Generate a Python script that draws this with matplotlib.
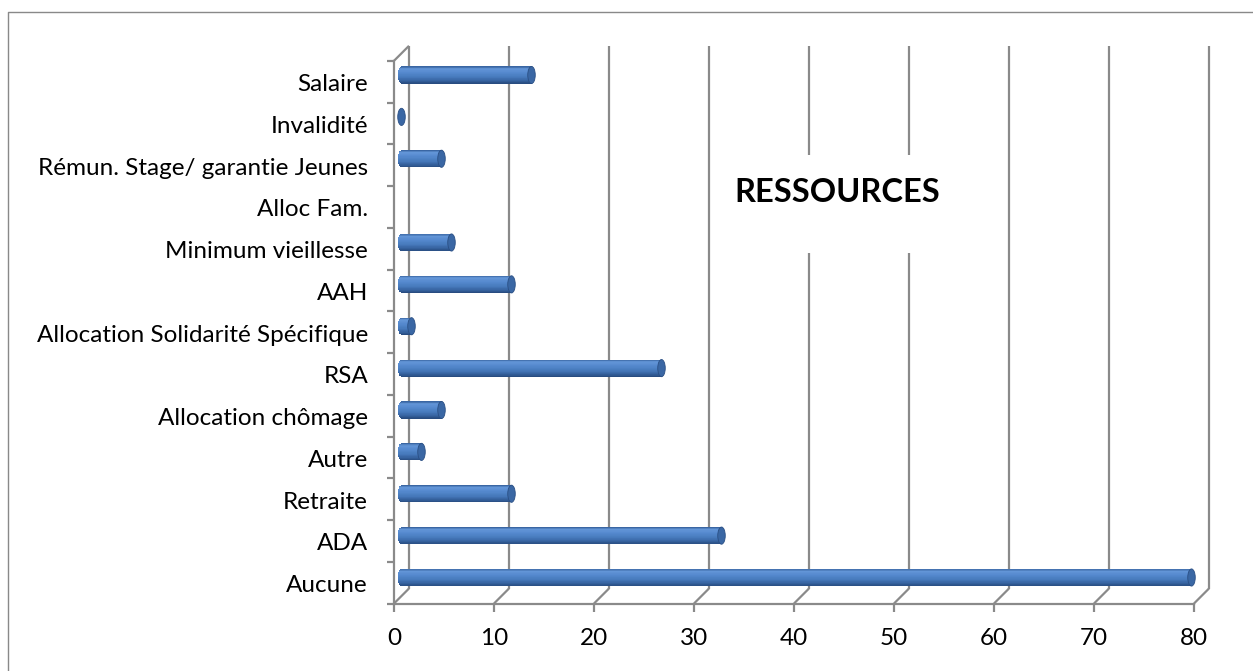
import numpy as np
import matplotlib
matplotlib.use('Agg')
import matplotlib.pyplot as plt
from matplotlib.transforms import ScaledTranslation, blended_transform_factory
from matplotlib.patches import Ellipse, Rectangle
from matplotlib.colors import LinearSegmentedColormap
from matplotlib.lines import Line2D

# ---------------- data ----------------
categories = ["Aucune", "ADA", "Retraite", "Autre", "Allocation chômage", "RSA",
              "Allocation Solidarité Spécifique", "AAH", "Minimum vieillesse",
              "Alloc Fam.", "Rémun. Stage/ garantie Jeunes", "Invalidité", "Salaire"]
values = [79, 32, 11, 2, 4, 26, 1, 11, 5, np.nan, 4, 0, 13]
xticks = [0, 10, 20, 30, 40, 50, 60, 70, 80]
title = "RESSOURCES"

# ---------------- figure ----------------
W, H, DPI = 1253, 671, 100
plt.rcParams['font.family'] = ['Lato', 'DejaVu Sans']
fig = plt.figure(figsize=(W / DPI, H / DPI), dpi=DPI)
fig.patch.set_facecolor('white')

def fx(px):
    return px / W

def fy(py):
    return 1 - py / H

ax = fig.add_axes([fx(401.5), fy(596), 800 / W, (596 - 53.3) / H])
ax.set_xlim(0, 80)
ax.set_ylim(-0.442, 12.518)
ax.axis('off')

GRID = '#8A8A8A'
LW = 1.6
D = 7.5
LABEL_FS = 17.5

def off(dx, dy):
    return ScaledTranslation(dx / DPI, dy / DPI, fig.dpi_scale_trans)

blend = blended_transform_factory(ax.transData, ax.transAxes)
front_blend = blend + off(-D, -D)
back_blend = blend + off(D, D)
front_axes = ax.transAxes + off(-D, -D)
back_axes = ax.transAxes + off(D, D)

inv = fig.transFigure.inverted()

def fig_line(p1, p2, **kw):
    a = inv.transform(p1)
    b = inv.transform(p2)
    fig.add_artist(Line2D([a[0], b[0]], [a[1], b[1]], transform=fig.transFigure,
                          color=GRID, lw=LW, solid_capstyle='butt', **kw))

# back wall gridlines
for t in xticks:
    ax.plot([t, t], [0, 1], transform=back_blend, color=GRID, lw=LW,
            clip_on=False, zorder=1, solid_capstyle='butt')

# floor: front edge, diagonals, ticks
ax.plot([0, 80], [0, 0], transform=front_blend, color=GRID, lw=LW, clip_on=False, zorder=1)
for t in xticks:
    p1 = front_blend.transform((t, 0))
    p2 = back_blend.transform((t, 0))
    fig_line(p1, p2, zorder=1)
    fig_line(p1, (p1[0], p1[1] - 8), zorder=1)
    ax.text(t, 0, str(t), transform=front_blend + off(0, -35), ha='center',
            va='center', fontsize=LABEL_FS, color='black')

# left wall
ax.plot([0, 0], [0, 1], transform=front_axes, color=GRID, lw=LW, clip_on=False, zorder=1)
fig_line(front_axes.transform((0, 1)), back_axes.transform((0, 1)), zorder=1)
n = len(categories)
for k in range(n + 1):
    p = front_axes.transform((0, k / n))
    fig_line(p, (p[0] - 7, p[1]), zorder=1)

# category labels
for i, cat in enumerate(categories):
    ax.text(0, (i + 0.5) / n, cat, transform=front_axes + off(-26, -3),
            ha='right', va='center', fontsize=LABEL_FS, color='black')

# bars (cylinders drawn as gradient strips)
cmap = LinearSegmentedColormap.from_list('cyl', [
    (0.0, '#3A66A3'), (0.12, '#6396D8'), (0.35, '#5589CE'),
    (0.65, '#4578BA'), (0.88, '#335E99'), (1.0, '#284C80')])
h = 0.41
ew = 0.75
NB = 30
for i, v in enumerate(values):
    if np.isnan(v):
        continue
    y = i
    if v > 0:
        edges = np.linspace(y + h / 2, y - h / 2, NB + 1)
        for b in range(NB):
            yc = 0.5 * (edges[b] + edges[b + 1])
            r = (yc - y) / (h / 2)
            hw = (ew / 2) * np.sqrt(max(0.0, 1 - r * r))
            ax.barh(edges[b + 1], v + hw, left=-hw, height=edges[b] - edges[b + 1],
                    align='edge', color=cmap(b / (NB - 1)), linewidth=0,
                    zorder=3, clip_on=False)
    cap = Ellipse((v, y), ew, h, facecolor='#3A67A4', edgecolor='#2A4F84',
                  lw=0.6, zorder=4, clip_on=False)
    ax.add_patch(cap)

ax.set_xlim(0, 80)
ax.set_ylim(-0.442, 12.518)

# title with white box
fig.add_artist(Rectangle((fx(722), fy(253)), (955 - 722) / W, (253 - 155) / H,
                         transform=fig.transFigure, facecolor='white',
                         edgecolor='none', zorder=5))
fig.text(fx(837), fy(193), title, ha='center', va='center', fontsize=23.5,
         fontweight='bold', color='black', zorder=6)

# outer chart border
fig.add_artist(Line2D([fx(7.5), fx(7.5), 1.0], [0.0, fy(11.5), fy(11.5)],
                      transform=fig.transFigure, color='#898989', lw=1.0))

fig.savefig('out.png', dpi=DPI, facecolor='white')
